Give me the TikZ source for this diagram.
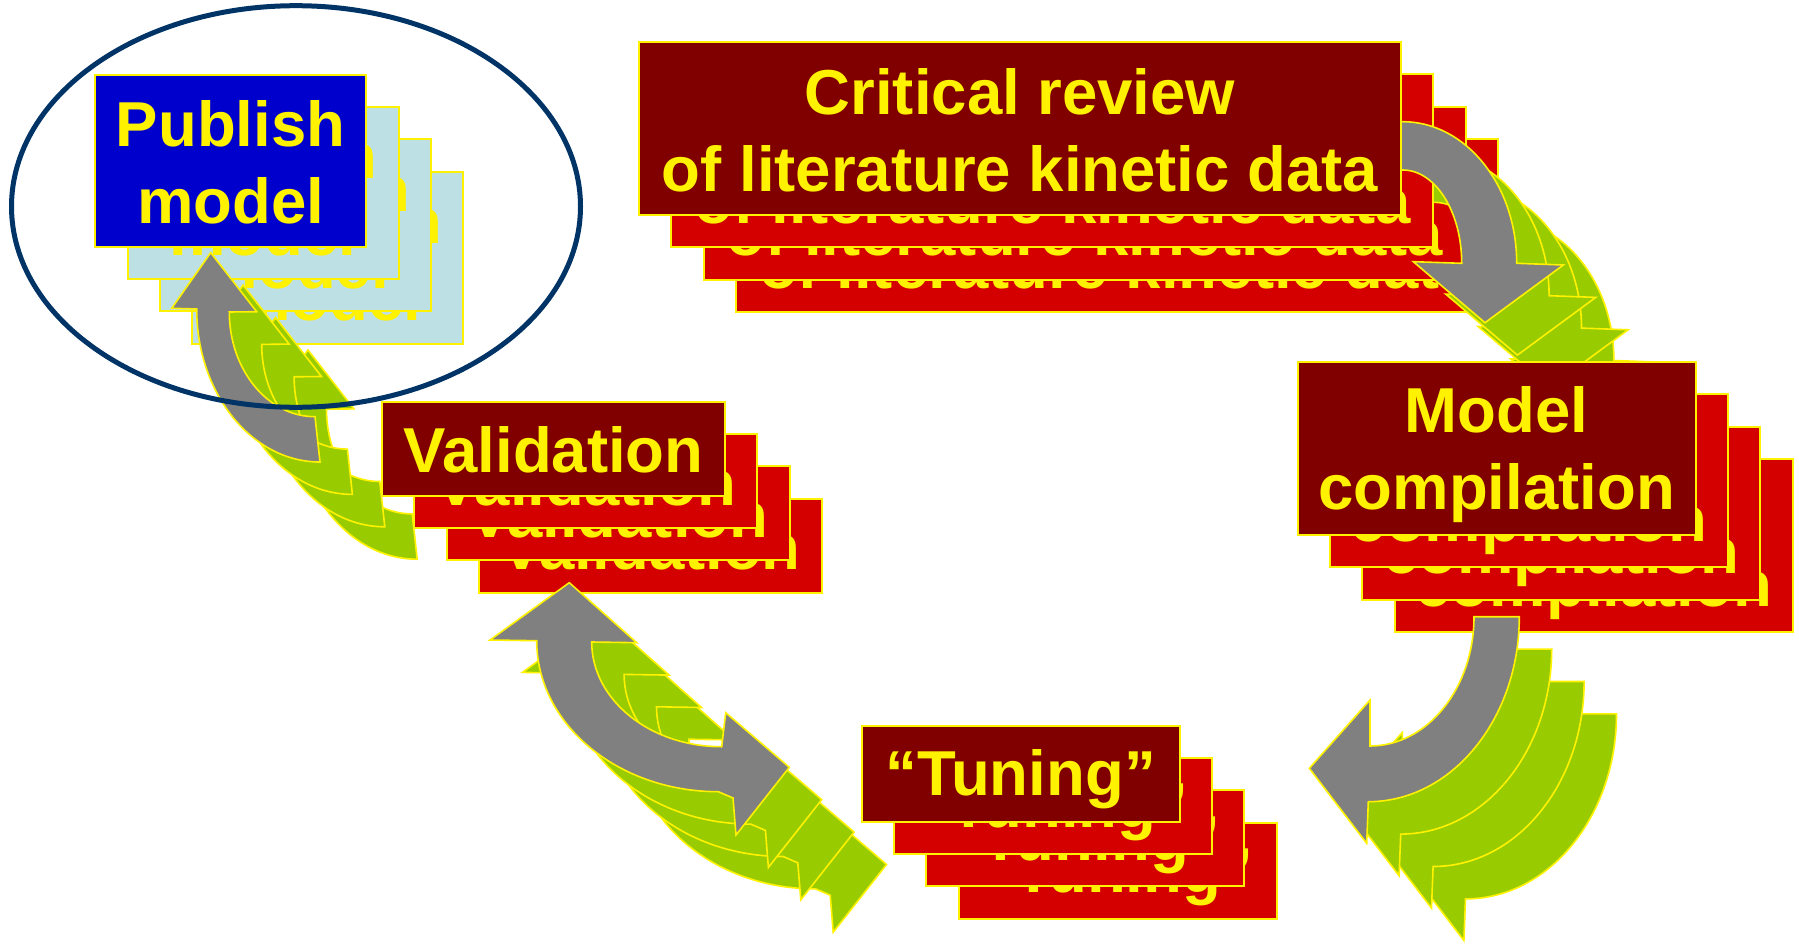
\documentclass[tikz,border=0pt]{standalone}
\usepackage{fontspec}
\setmainfont{Liberation Sans}
\usepackage{xcolor}
\usepackage{tikz}

\definecolor{boxfront}{HTML}{800000}
\definecolor{boxback}{HTML}{D40000}
\definecolor{pubfront}{HTML}{0000CC}
\definecolor{pubback}{HTML}{BCE0E4}
\definecolor{arrowfront}{HTML}{808080}
\definecolor{arrowback}{HTML}{99CC00}
\definecolor{ringblue}{HTML}{003366}

% fixed line height, so every line sits the same way in its box
\newcommand{\ls}{\rule[-9pt]{0pt}{66.5pt}}

% one layer of the cycle: #1 = layer offset, #2 = box fill,
% #3 = publish box fill, #4 = arrow fill
\newcommand{\cyclelayer}[4]{%
  \begin{scope}[shift={(#1*32.4,#1*32.4)}]
    % --- curved arrows (drawn first, boxes sit on their tails)
    \filldraw [curved, fill=#4] (1383,121.7) -- (1402.7,121.7)
      .. controls (1465.7,121.7) and (1516.7,185.1) .. (1516.7,263.3)
      -- (1563.3,265) -- (1485,322.7) -- (1413.3,261.7) -- (1461.7,263.3)
      .. controls (1461.7,211.8) and (1435.3,170) .. (1402.7,170)
      -- (1383,170) -- cycle;
    \filldraw [curved, fill=#4] (1474,616.7) -- (1519.3,616.7)
      .. controls (1519.3,718.9) and (1451.7,801.7) .. (1368.3,801.7)
      -- (1366.7,843.3) -- (1309.3,768.3) -- (1370,700) -- (1370,746)
      .. controls (1427.4,746) and (1474,688.1) .. (1474,616.7) -- cycle;
    \filldraw [curved, fill=#4] (569.3,582.7) -- (636.7,642.7) -- (591.7,642)
      .. controls (591.7,699.8) and (649.9,746.7) .. (721.7,746.7)
      -- (725.7,712.7) -- (789.3,767.3) -- (736,835) -- (733,798) -- (718.3,791.7)
      .. controls (618,791.7) and (536.7,724.1) .. (536.7,640.7)
      -- (490,640) -- cycle;
    \filldraw [curved, fill=#4] (210.7,252.7) -- (256.7,311.7) -- (229.3,312)
      .. controls (229.3,369.8) and (267.7,416.7) .. (315,416.7)
      -- (320,462) .. controls (251.9,462) and (196.7,393.5) .. (196.7,309)
      -- (171.7,308.3) -- cycle;
    % --- boxes
    \node (crit#1) [stage, fill=#2, minimum width=762pt, minimum height=173pt]
      at (1020,128.3) {\ls Critical review\\\ls of literature kinetic data};
    \node (comp#1) [stage, fill=#2, minimum width=398pt, minimum height=173pt]
      at (1496.6,448.4) {\ls Model\\\ls compilation};
    \node (tune#1) [stage, fill=#2, minimum width=318pt, minimum height=96pt]
      at (1020.5,773.5) {\ls “Tuning”};
    \node (valid#1) [stage, fill=#2, minimum width=343pt, minimum height=94pt]
      at (553.5,448.5) {\ls Validation};
    \node (pub#1) [stage, fill=#3, minimum width=271pt, minimum height=172pt]
      at (230.6,160.6) {\ls Publish\\\ls model};
  \end{scope}}

\begin{document}
\begin{tikzpicture}[
    x=1pt, y=-1pt,
    stage/.style={
        draw=yellow, line width=2pt, rectangle, inner sep=0pt,
        align=center, text=yellow,
        font=\bfseries\fontsize{63.5}{77}\selectfont
    },
    curved/.style={draw=yellow, line width=1.6pt, line join=miter}
]
\useasboundingbox (0,0) rectangle (1799,944);

% --- stacked copies, back to front
\cyclelayer{3}{boxback}{pubback}{arrowback}
\cyclelayer{2}{boxback}{pubback}{arrowback}
\cyclelayer{1}{boxback}{pubback}{arrowback}

% --- front layer
\cyclelayer{0}{boxfront}{pubfront}{arrowfront}

% --- ring round the published model
\draw [ringblue, line width=5pt] (296,206.5) ellipse [x radius=284.5pt, y radius=200.8pt];

\end{tikzpicture}
\end{document}
